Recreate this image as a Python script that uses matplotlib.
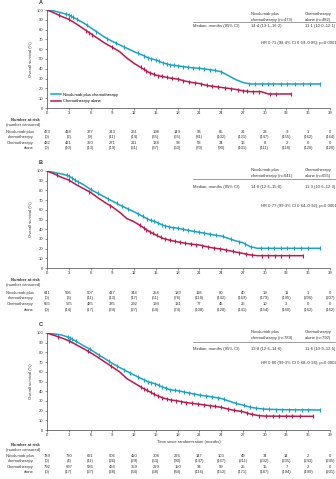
import matplotlib.pyplot as plt
import numpy as np
from matplotlib import transforms
from matplotlib.lines import Line2D

plt.rcParams["font.family"] = ["Liberation Sans", "DejaVu Sans"]

BLUE = "#17a3c9"
RED = "#c2164a"
TEXT = "#333333"

W, H = 336, 479

MONTHS = list(range(0, 40, 3))

# ---- panel A (PD-L1 CPS >= 5) ----
A_NIVO_T = [0, 1, 2, 3, 4, 5, 6, 7, 8, 9, 10, 11, 12, 13, 14, 15, 16, 17, 18, 19, 20,
            21, 22, 23, 24, 25, 26, 27, 28, 37.6]
A_NIVO_S = [100, 99, 97, 95, 91, 87, 82, 77, 72, 68, 64.5, 61, 57.5, 54.5, 51, 49, 46, 44,
            43, 42, 41, 40.5, 39.5, 38.5, 37, 33, 29, 26, 24.5, 24.5]
A_CHEMO_T = [0, 1, 2, 3, 4, 5, 6, 7, 8, 9, 10, 11, 12, 13, 14, 15, 16, 17, 18, 19, 20,
             21, 22, 23, 24, 25, 26, 27, 28, 29.5, 30.5, 33.6]
A_CHEMO_S = [100, 97, 93.5, 90.5, 86, 81, 76, 71, 66, 62, 57.5, 51, 45.5, 41, 36.5, 33.5,
             32, 30.5, 29.5, 27.5, 26, 25, 23, 22, 21, 20, 19, 17.5, 16.7, 16.7, 14.3, 14.3]
A_NIVO_CENS_T = [2.6, 3.0, 3.3, 3.6, 4.1, 5.5, 6.8, 8.3, 9.5, 10.6, 12.6, 13.4, 13.9, 14.4,
                 15.0, 15.5, 16.0, 16.5, 17.0, 17.5, 18.1, 18.7, 19.4, 20.1, 20.9, 21.6,
                 22.4, 23.1, 24.0, 27.8, 28.6, 29.6, 30.4, 31.2, 32.2, 33.1, 34.2, 35.3,
                 36.3, 37.6]
A_CHEMO_CENS_T = [1.6, 3.0, 5.4, 5.8, 6.2, 8.9, 12.9, 13.3, 13.7, 14.2, 14.7, 15.3, 15.9,
                  16.5, 17.2, 18.0, 18.8, 19.6, 20.4, 21.2, 22.0, 22.8, 23.6, 24.5, 25.4,
                  26.3, 27.0, 27.6, 28.4, 29.2, 30.8, 31.6, 33.6]
A_NIVO_RISK = [473, 418, 377, 313, 261, 198, 149, 96, 65, 31, 23, 9, 1, 0]
A_NIVO_CENS = [0, 2, 9, 11, 14, 35, 55, 81, 102, 121, 147, 155, 162, 164]
A_CHEMO_RISK = [482, 421, 350, 271, 211, 138, 98, 58, 34, 16, 8, 2, 0, 0]
A_CHEMO_CENS = [0, 10, 13, 19, 21, 37, 50, 70, 90, 101, 111, 118, 120, 120]
A_N = (473, 482)
A_MEDIAN = ("14·4 (13·1–16·2)", "11·1 (10·0–12·1)")
A_HR = "HR 0·71 (98·4% CI 0·59–0·86); p<0·0001"

# ---- panel B (PD-L1 CPS >= 1) ----
B_NIVO_T = [0, 1, 2, 3, 4, 5, 6, 7, 8, 9, 10, 11, 12, 13, 14, 15, 16, 17, 18, 19, 20,
            21, 22, 23, 24, 25, 26, 27, 28, 29, 37.6]
B_NIVO_S = [100, 98.5, 97, 95, 90, 86, 81, 77, 73, 69, 65, 61.5, 58, 54, 50, 47.5, 44, 42,
            41, 39.5, 38, 36.8, 35.5, 34, 33, 30.5, 28, 26, 22, 20.3, 20.3]
B_CHEMO_T = [0, 1, 2, 3, 4, 5, 6, 7, 8, 9, 10, 11, 12, 13, 14, 15, 16, 17, 18, 19, 20,
             21, 22, 23, 24, 25, 26, 27, 28, 29, 35.3]
B_CHEMO_S = [100, 97, 93.5, 90.7, 86, 82, 78, 72.5, 67.5, 63, 57.5, 51, 47.7, 43, 38, 34,
             30.5, 28.5, 27, 25.5, 24.5, 23.7, 22, 20.5, 19.6, 18, 16.5, 15, 13.5, 12.7, 12.7]
B_NIVO_CENS_T = [2.8, 3.1, 3.4, 3.8, 4.3, 6.0, 7.0, 8.4, 9.6, 10.4, 11.2, 12.5, 13.2, 13.8,
                 14.3, 14.8, 15.3, 15.8, 16.3, 16.8, 17.4, 18.0, 18.7, 19.4, 20.2, 21.0,
                 21.7, 22.5, 23.3, 24.2, 25.3, 26.5, 27.3, 28.1, 29.5, 30.4, 31.3, 32.2,
                 33.1, 34.0, 35.0, 35.9, 37.6]
B_CHEMO_CENS_T = [1.4, 3.0, 5.8, 8.7, 12.8, 13.3, 13.7, 14.2, 14.6, 15.1, 15.7, 16.3,
                  16.9, 17.6, 18.3, 19.0, 19.8, 20.6, 21.4, 22.2, 23.0, 23.8, 24.7, 25.6,
                  26.5, 27.4, 28.2, 29.6, 30.5, 31.4, 32.3, 33.3, 35.3]
B_NIVO_RISK = [641, 595, 507, 417, 344, 254, 183, 118, 80, 40, 19, 11, 1, 0]
B_NIVO_CENS = [0, 3, 11, 13, 17, 51, 76, 118, 142, 169, 179, 195, 206, 207]
B_CHEMO_RISK = [655, 575, 485, 385, 292, 194, 131, 77, 45, 25, 10, 3, 0, 0]
B_CHEMO_CENS = [0, 14, 17, 24, 27, 54, 74, 108, 128, 141, 154, 160, 162, 162]
B_N = (641, 655)
B_MEDIAN = ("14·0 (12·6–15·0)", "11·3 (10·6–12·3)")
B_HR = "HR 0·77 (99·3% CI 0·64–0·92); p=0·0001"

# ---- panel C (all randomised) ----
C_NIVO_T = [0, 1, 2, 3, 4, 5, 6, 7, 8, 9, 10, 11, 12, 13, 14, 15, 16, 17, 18, 19, 20,
            21, 22, 23, 24, 25, 26, 27, 28, 29, 30, 32, 37.6]
C_NIVO_S = [100, 99, 98, 95.5, 91.5, 87, 83, 78, 73.5, 68.7, 64.5, 60.5, 56.7, 53, 49.5,
            47.4, 44, 41.5, 40.5, 39, 37.5, 36, 35, 33.8, 32.6, 30, 27.5, 25.7, 23.5, 22.3,
            21.5, 21, 20.6]
C_CHEMO_T = [0, 1, 2, 3, 4, 5, 6, 7, 8, 9, 10, 11, 12, 13, 14, 15, 16, 17, 18, 19, 20,
             21, 22, 23, 24, 25, 26, 27, 28, 29, 30, 36.6]
C_CHEMO_S = [100, 97.5, 95, 92, 88, 84, 79.7, 75, 70, 65, 60, 53, 48.5, 44, 40, 36, 33,
             31, 30, 28.5, 27.5, 26.5, 25.5, 24.5, 23.4, 21.5, 20, 18.9, 16.5, 15, 14.3, 14.1]
C_NIVO_CENS_T = [2.9, 3.2, 3.5, 4.0, 5.9, 7.2, 8.5, 9.7, 10.6, 11.5, 12.6, 13.3, 13.9,
                 14.4, 14.9, 15.4, 15.9, 16.4, 17.0, 17.6, 18.2, 18.9, 19.6, 20.3, 21.1,
                 21.9, 22.7, 23.5, 24.4, 26.0, 27.2, 28.0, 28.8, 29.7, 30.6, 31.5, 32.4,
                 33.3, 34.2, 35.1, 36.0, 37.6]
C_CHEMO_CENS_T = [1.5, 3.1, 5.7, 8.8, 12.9, 13.4, 13.8, 14.3, 14.8, 15.3, 15.9, 16.5,
                  17.1, 17.8, 18.5, 19.2, 20.0, 20.8, 21.6, 22.4, 23.2, 24.0, 24.9, 25.8,
                  26.7, 27.5, 28.3, 29.2, 30.2, 31.1, 32.0, 32.9, 33.8, 34.8, 36.6]
C_NIVO_RISK = [789, 730, 621, 506, 420, 308, 226, 147, 100, 49, 34, 14, 2, 0]
C_NIVO_CENS = [0, 4, 11, 26, 29, 63, 90, 147, 167, 211, 232, 235, 243, 245]
C_CHEMO_RISK = [792, 697, 586, 466, 359, 229, 150, 94, 59, 25, 15, 7, 2, 0]
C_CHEMO_CENS = [0, 17, 27, 28, 34, 68, 84, 116, 152, 171, 187, 194, 199, 201]
C_N = (789, 792)
C_MEDIAN = ("13·8 (12·6–14·6)", "11·6 (10·9–12·5)")
C_HR = "HR 0·80 (99·3% CI 0·68–0·94); p=0·0002"


def fx(x):
    return x / W


def fy(y):
    return 1 - y / H


fig = plt.figure(figsize=(W / 100, H / 100), dpi=100)
fig.patch.set_facecolor("white")

# layout in pixels of the 336x479 canvas
panels = [
    dict(letter="A", top=10, bottom=108, letter_y=3, head=(14, 19.5), rule=22, med=26, hr=43,
         table=(120, 125, 132, 137, 143, 148),
         nivo=(A_NIVO_T, A_NIVO_S, A_NIVO_CENS_T, A_NIVO_RISK, A_NIVO_CENS),
         chemo=(A_CHEMO_T, A_CHEMO_S, A_CHEMO_CENS_T, A_CHEMO_RISK, A_CHEMO_CENS),
         n=A_N, median=A_MEDIAN, hrtext=A_HR),
    dict(letter="B", top=171, bottom=268, letter_y=163, head=(170.5, 176), rule=179, med=187,
         hr=206, table=(280, 285, 293, 298, 304, 310),
         nivo=(B_NIVO_T, B_NIVO_S, B_NIVO_CENS_T, B_NIVO_RISK, B_NIVO_CENS),
         chemo=(B_CHEMO_T, B_CHEMO_S, B_CHEMO_CENS_T, B_CHEMO_RISK, B_CHEMO_CENS),
         n=B_N, median=B_MEDIAN, hrtext=B_HR),
    dict(letter="C", top=333, bottom=430, letter_y=325, head=(332.5, 338), rule=342, med=349,
         hr=363, table=(445, 450, 456, 461, 467, 472),
         nivo=(C_NIVO_T, C_NIVO_S, C_NIVO_CENS_T, C_NIVO_RISK, C_NIVO_CENS),
         chemo=(C_CHEMO_T, C_CHEMO_S, C_CHEMO_CENS_T, C_CHEMO_RISK, C_CHEMO_CENS),
         n=C_N, median=C_MEDIAN, hrtext=C_HR),
]

AX_L, AX_R = 47, 330
FS = 3.0

for p in panels:
    ax = fig.add_axes([fx(AX_L), fy(p["bottom"]), fx(AX_R - AX_L), (p["bottom"] - p["top"]) / H])
    for (t, s, ct, _, _), col in ((p["nivo"], BLUE), (p["chemo"], RED)):
        ax.plot(t, s, color=col, lw=1.1, solid_joinstyle="round")
        ax.plot(ct, np.interp(ct, t, s), ls="none", marker="|", ms=2.6, mew=0.8, color=col)
    ax.set_xlim(0, 39)
    ax.set_ylim(0, 100)
    ax.set_xticks(MONTHS)
    ax.set_yticks(range(0, 101, 10))
    for side in ("top", "right"):
        ax.spines[side].set_visible(False)
    for side in ("left", "bottom"):
        ax.spines[side].set_linewidth(0.5)
        ax.spines[side].set_color("#444444")
    ax.tick_params(labelsize=FS, length=1.5, width=0.4, pad=1, colors="#444444",
                   labelcolor=TEXT)
    ax.set_ylabel("Overall survival (%)", fontsize=FS, color=TEXT, labelpad=3)
    if p["letter"] == "C":
        ax.set_xlabel("Time since randomisation (months)", fontsize=FS, color=TEXT, labelpad=1.5)
    if p["letter"] == "A":
        handles = [Line2D([], [], color=BLUE, lw=1.1), Line2D([], [], color=RED, lw=1.1)]
        ax.legend(handles, ["Nivolumab plus chemotherapy", "Chemotherapy alone"],
                  loc="lower left", bbox_to_anchor=(0.01, 0.03), frameon=False,
                  fontsize=FS, handlelength=2.2, handletextpad=0.6, labelspacing=0.6,
                  borderaxespad=0)

    fig.text(fx(41), fy(p["letter_y"]), p["letter"], fontsize=4, fontweight="bold",
             color=TEXT, ha="center", va="center")

    # summary table
    fig.text(fx(251), fy(p["head"][0]), "Nivolumab plus", fontsize=FS, color=TEXT, va="center")
    fig.text(fx(251), fy(p["head"][1]), f"chemotherapy (n={p['n'][0]})", fontsize=FS,
             color=TEXT, va="center")
    fig.text(fx(305), fy(p["head"][0]), "Chemotherapy", fontsize=FS, color=TEXT, va="center")
    fig.text(fx(305), fy(p["head"][1]), f"alone (n={p['n'][1]})", fontsize=FS, color=TEXT,
             va="center")
    fig.add_artist(Line2D([fx(193), 1.0], [fy(p["rule"]), fy(p["rule"])], lw=0.4,
                          color="#555555"))
    fig.text(fx(193), fy(p["med"]), "Median, months (95% CI)", fontsize=FS, color=TEXT,
             va="center")
    fig.text(fx(251), fy(p["med"]), p["median"][0], fontsize=FS, color=TEXT, va="center")
    fig.text(fx(305), fy(p["med"]), p["median"][1], fontsize=FS, color=TEXT, va="center")
    fig.text(fx(261), fy(p["hr"]), p["hrtext"], fontsize=FS, color=TEXT, va="center")

    # number at risk table
    ty = p["table"]
    fig.text(fx(40), fy(ty[0]), "Number at risk", fontsize=FS, color=TEXT, ha="right",
             va="center", fontweight="bold")
    fig.text(fx(40), fy(ty[1]), "(number censored)", fontsize=FS, color=TEXT, ha="right",
             va="center")
    for lab, y in zip(["Nivolumab plus", "chemotherapy", "Chemotherapy", "alone"], ty[2:]):
        fig.text(fx(34), fy(y), lab, fontsize=FS, color=TEXT, ha="right", va="center")
    trans = transforms.blended_transform_factory(ax.transData, fig.transFigure)
    rows = [(p["nivo"][3], p["nivo"][4], ty[2], ty[3]),
            (p["chemo"][3], p["chemo"][4], ty[4], ty[5])]
    for risk, cens, y1, y2 in rows:
        for m, r, c in zip(MONTHS, risk, cens):
            ax.text(m, fy(y1), str(r), transform=trans, fontsize=FS, color=TEXT,
                    ha="center", va="center", clip_on=False)
            ax.text(m, fy(y2), f"({c})", transform=trans, fontsize=FS, color=TEXT,
                    ha="center", va="center", clip_on=False)

fig.savefig("out.png", dpi=100, facecolor="white")
